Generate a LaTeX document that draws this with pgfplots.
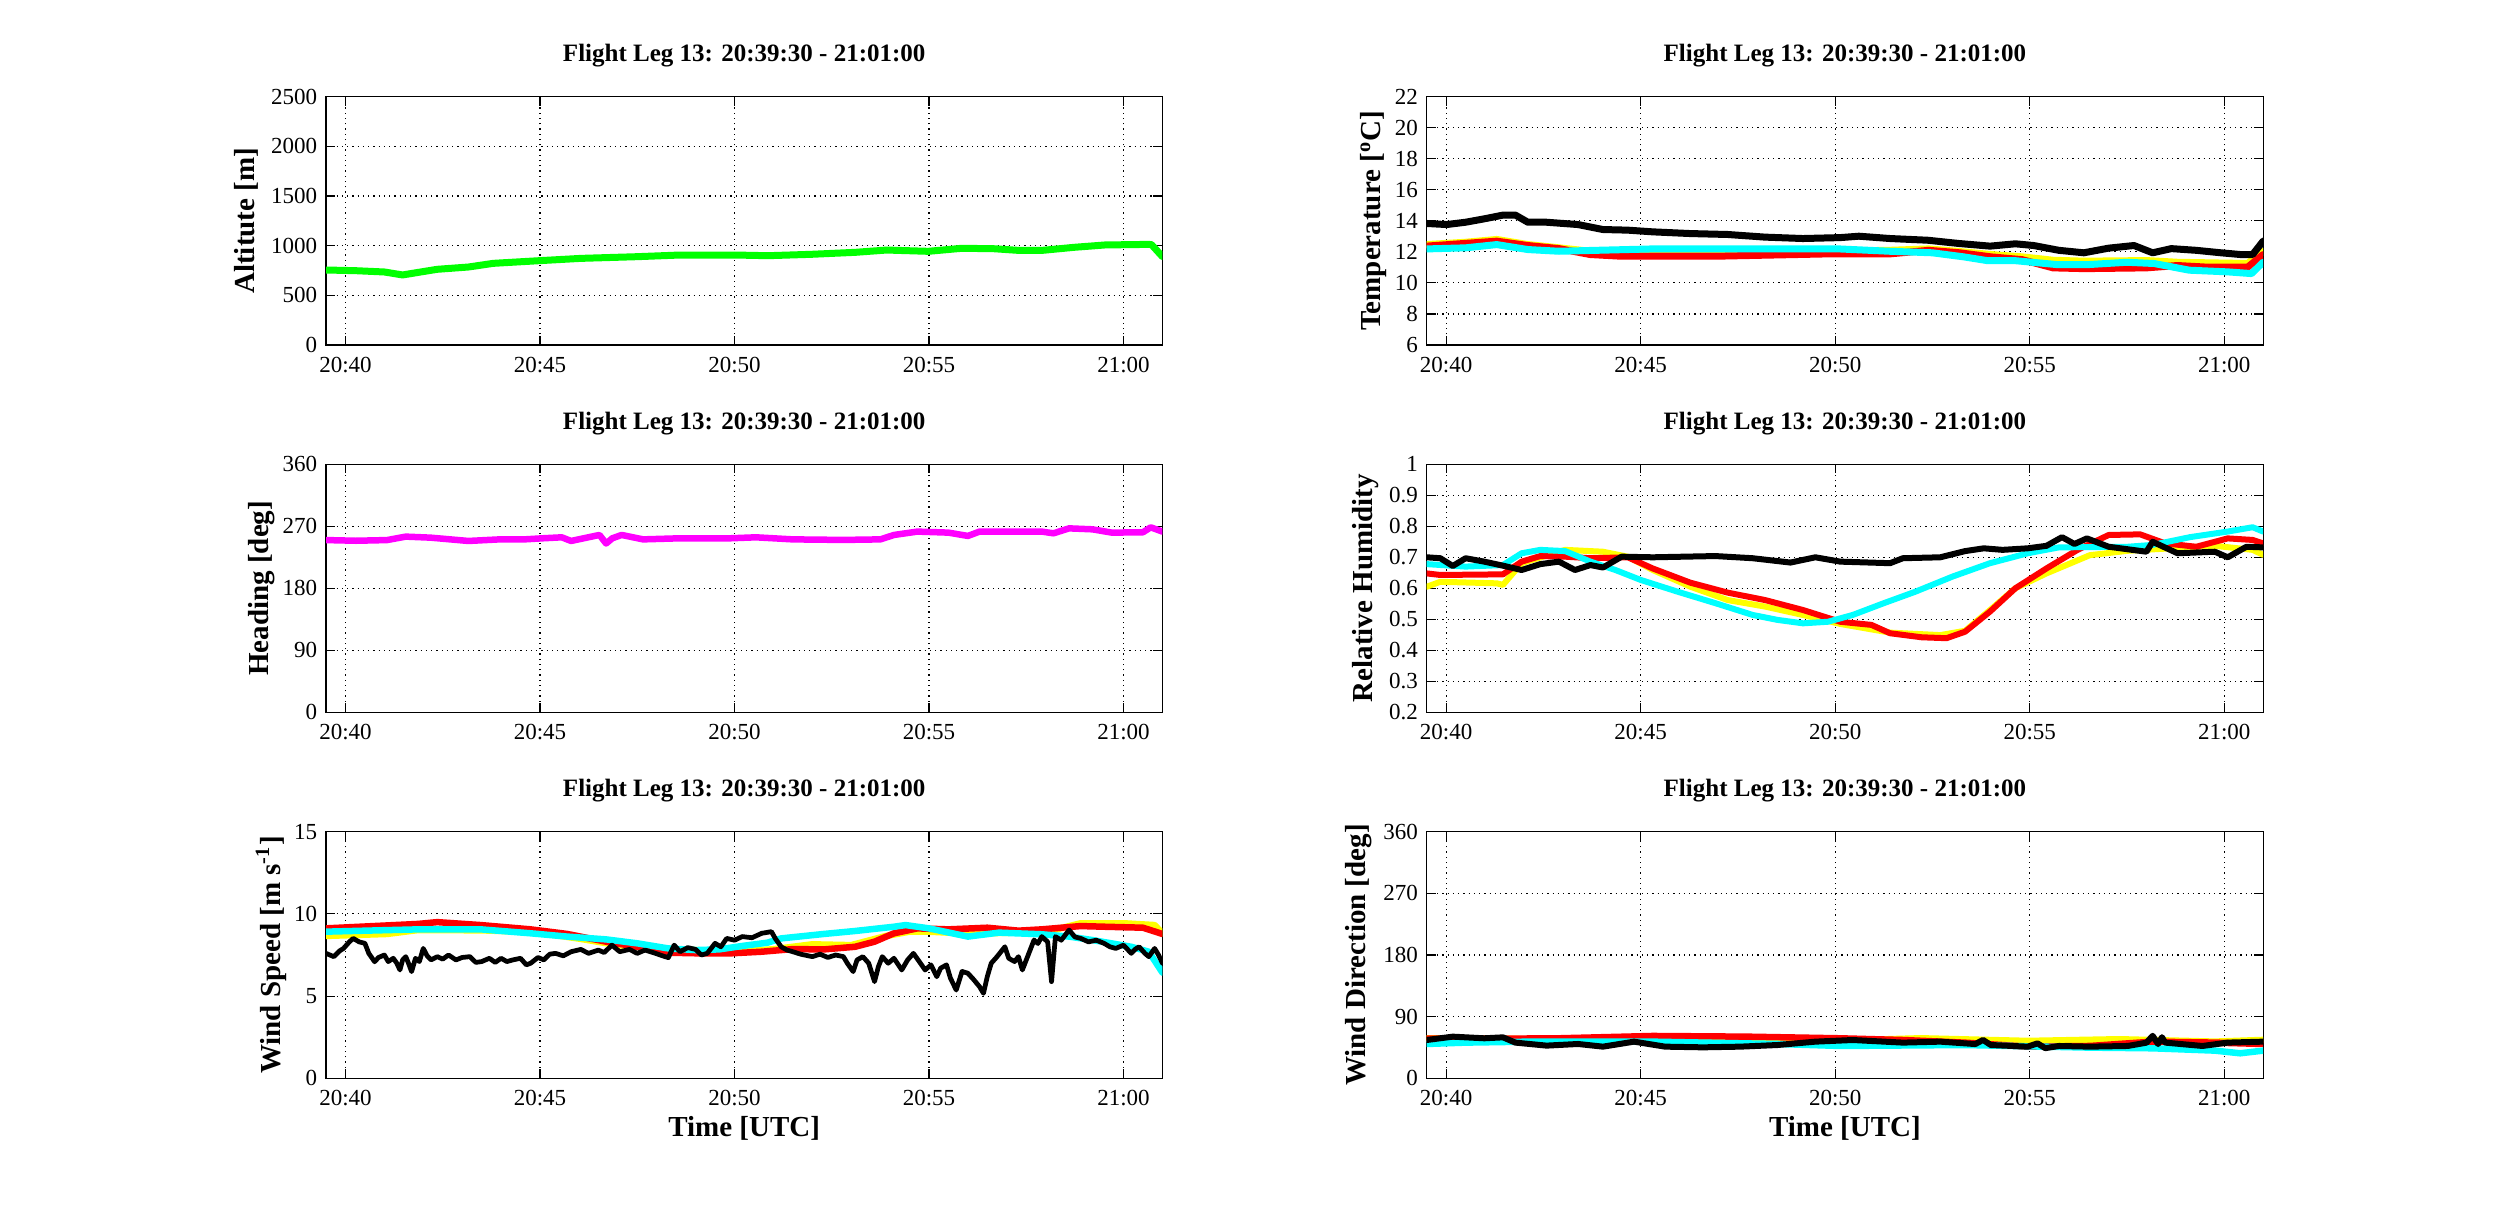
\documentclass[border=0pt]{standalone}
\usepackage{fontspec}
\setmainfont{Liberation Serif}
\usepackage{pgfplots}
\pgfplotsset{compat=1.18}
\definecolor{mgreen}{rgb}{0,1,0}
\definecolor{mmag}{rgb}{1,0,1}
\definecolor{myel}{rgb}{1,1,0}
\definecolor{mred}{rgb}{1,0,0}
\definecolor{mcyan}{rgb}{0,1,1}
\pgfplotsset{
  myax/.style={
    scale only axis, anchor=south west,
    width=334.56pt,
    xmin=-0.5, xmax=21,
    xtick={0,5,10,15,20},
    xticklabels={20:40,20:45,20:50,20:55,21:00},
    tick align=inside, tick pos=both,
    major tick length=3.6pt,
    every tick/.style={black, line width=0.45pt},
    axis line style={line width=0.5pt},
    grid=major,
    major grid style={black, line width=0.45pt, dash pattern=on 0.5pt off 1.6pt},
    tick label style={font=\fontsize{9.2}{10}\selectfont},
    xticklabel style={yshift=-1.2pt},
    /pgf/number format/assume math mode=true,
    /pgf/number format/1000 sep={},
    scaled y ticks=false,
    title={Flight Leg 13: 20:39:30 - 21:01:00},
    title style={font=\bfseries\fontsize{10}{12}\selectfont, at={(0.5,1)}, anchor=base, yshift=8pt},
    label style={font=\bfseries\fontsize{11.6}{13}\selectfont},
    every axis plot/.append style={line join=round, line cap=round},
  },
  ylab/.style={ylabel style={at={(axis description cs:-#1,0.5)}, anchor=base, rotate=0}},
  xlab/.style={xlabel={Time [UTC]}, xlabel style={at={(axis description cs:0.5,0)}, anchor=base, yshift=-23.4pt}},
}
\begin{document}
\begin{tikzpicture}
\path[use as bounding box] (0,0) rectangle (1000pt,489.6pt);

% ---------- Altitude ----------
\begin{axis}[myax, at={(130.4pt,351.6pt)}, height=99.32pt,
  ymin=0, ymax=2500, ytick={0,500,...,2500},
  ylabel={Altitute [m]}, ylab=0.0849]
\addplot[mgreen, line width=2.8pt] coordinates {
(-0.5,755)(0.27,748)(1.0,735)(1.47,705)(1.87,731)(2.36,762)(3.16,785)(3.80,822)
(4.99,849)(6.05,872)(7.49,889)(8.61,906)(9.99,906)(10.86,899)(11.98,913)(13.11,933)
(13.91,956)(14.98,943)(15.83,973)(16.64,970)(17.28,953)(17.92,953)(18.72,983)
(19.52,1007)(20.65,1013)(20.72,1010)(21,890)};
\end{axis}

% ---------- Heading ----------
\begin{axis}[myax, at={(130.4pt,204.68pt)}, height=99.2pt,
  ymin=0, ymax=360, ytick={0,90,...,360},
  ylabel={Heading [deg]}, ylab=0.0693]
\addplot[mmag, line width=2.6pt] coordinates {
(-0.5,250)(0.27,249)(1.07,250)(1.55,255)(2.19,253.5)(3.16,248.7)(3.96,251)(4.6,251)
(5.08,252.6)(5.56,254)(5.8,248.7)(6.2,253.5)(6.53,257.4)(6.7,245)(6.86,252.6)(7.1,257.4)
(7.65,251)(8.61,252.6)(9.9,252.6)(10.55,254)(11.5,251)(12.8,250.2)(13.75,251)(14.1,257.4)
(14.7,262.3)(15.5,260.8)(16.0,256)(16.3,262.3)(17.3,262.3)(17.9,262.3)(18.2,259.8)
(18.6,267)(19.2,265.6)(19.7,260.8)(20.5,261.3)(20.7,268.5)(21,262.3)};
\end{axis}

% ---------- Wind speed ----------
\begin{axis}[myax, at={(130.4pt,58.28pt)}, height=98.64pt,
  ymin=0, ymax=15, ytick={0,5,10,15},
  ylabel={Wind Speed [m s\textsuperscript{-1}]}, ylab=0.0550, xlab]
\addplot[myel, line width=2.6pt] coordinates {
(-0.5,8.66)(1.07,8.78)(1.87,9.02)(3.5,9.0)(4.8,8.9)(6.0,8.5)(7.0,8.1)(8.0,7.9)(9.0,7.8)
(10.0,7.7)(11.0,7.85)(12.0,8.15)(13.0,8.1)(13.9,8.66)(14.5,8.92)(15.0,8.92)(16.0,8.8)
(18.0,8.9)(18.9,9.43)(20.0,9.43)(20.8,9.32)(21,8.82)};
\addplot[mred, line width=2.6pt] coordinates {
(-0.5,9.12)(1.87,9.39)(2.36,9.5)(3.48,9.32)(4.76,9.06)(5.7,8.78)(6.7,8.31)(7.5,8.0)
(8.3,7.64)(9.1,7.6)(9.9,7.6)(10.7,7.7)(11.5,7.86)(12.3,7.84)(13.1,8.0)(13.6,8.31)
(14.1,8.82)(14.7,9.12)(15.5,9.06)(16.5,9.16)(17.3,8.98)(17.9,9.06)(18.9,9.26)(19.5,9.22)
(20.5,9.16)(21,8.78)};
\addplot[mcyan, line width=2.6pt] coordinates {
(-0.5,8.92)(1.87,9.06)(3.48,9.06)(4.76,8.82)(5.7,8.62)(6.7,8.45)(7.5,8.21)(8.3,7.9)
(9.0,7.8)(9.6,7.84)(10.2,8.05)(10.85,8.25)(11.2,8.51)(12.3,8.78)(13.1,8.96)(14.1,9.22)
(14.4,9.32)(15.0,9.12)(16.0,8.62)(16.8,8.86)(17.9,8.76)(18.6,8.62)(19.2,8.41)(20.2,8.0)
(20.65,7.7)(21,6.43)};
\addplot[black, line width=1.9pt] coordinates {
(-0.5,7.6)(-0.3,7.4)(-0.15,7.75)(-0.05,7.9)(0.1,8.3)(0.2,8.51)(0.35,8.3)(0.5,8.21)(0.6,7.6)
(0.75,7.09)(0.85,7.35)(1.0,7.5)(1.1,7.1)(1.23,7.3)(1.32,7.0)(1.4,6.59)(1.47,7.2)(1.55,7.4)
(1.62,7.0)(1.7,6.49)(1.8,7.3)(1.9,7.1)(2.0,7.9)(2.1,7.45)(2.2,7.2)(2.36,7.4)(2.5,7.25)
(2.65,7.5)(2.84,7.2)(3.0,7.35)(3.2,7.4)(3.35,7.05)(3.5,7.1)(3.7,7.3)(3.85,7.05)(4.0,7.3)
(4.15,7.1)(4.3,7.2)(4.5,7.3)(4.65,6.9)(4.76,7.0)(4.95,7.35)(5.1,7.2)(5.25,7.55)(5.4,7.6)
(5.6,7.45)(5.8,7.7)(6.05,7.84)(6.25,7.6)(6.5,7.8)(6.65,7.65)(6.85,8.1)(7.05,7.7)(7.3,7.84)
(7.5,7.6)(7.7,7.8)(7.97,7.6)(8.15,7.45)(8.3,7.34)(8.45,8.1)(8.6,7.7)(8.8,7.95)(9.0,7.84)
(9.15,7.5)(9.3,7.6)(9.5,8.21)(9.65,8.0)(9.8,8.51)(10.0,8.4)(10.2,8.62)(10.45,8.55)
(10.7,8.82)(10.95,8.92)(11.05,8.5)(11.2,8.0)(11.35,7.8)(11.5,7.7)(11.7,7.55)(12.0,7.4)
(12.2,7.55)(12.4,7.35)(12.6,7.5)(12.8,7.4)(12.9,7.0)(13.05,6.49)(13.15,7.2)(13.3,7.4)
(13.45,7.0)(13.6,5.88)(13.7,6.8)(13.8,7.4)(13.95,7.0)(14.1,7.3)(14.3,6.59)(14.45,7.2)
(14.6,7.6)(14.75,7.1)(14.9,6.59)(15.05,6.9)(15.2,6.18)(15.3,6.7)(15.45,6.9)(15.55,6.1)
(15.7,5.37)(15.85,6.5)(16.0,6.39)(16.15,6.0)(16.3,5.57)(16.4,5.17)(16.5,6.2)(16.6,7.0)
(16.75,7.4)(16.95,8.0)(17.05,7.3)(17.2,7.1)(17.3,7.4)(17.4,6.59)(17.55,7.5)(17.7,8.41)
(17.8,8.2)(17.9,8.62)(18.05,8.3)(18.15,5.88)(18.25,8.62)(18.4,8.4)(18.6,9.02)(18.75,8.6)
(18.9,8.51)(19.1,8.3)(19.3,8.4)(19.5,8.21)(19.65,8.0)(19.8,7.9)(20.0,8.1)(20.2,7.6)
(20.3,7.85)(20.4,8.0)(20.55,7.6)(20.65,7.4)(20.8,7.9)(20.9,7.5)(21,7.0)};
\end{axis}

% ---------- Temperature ----------
\begin{axis}[myax, at={(570.68pt,351.6pt)}, height=99.32pt,
  ymin=6, ymax=22, ytick={6,8,...,22},
  ylabel={Temperature [\textsuperscript{o}C]}, ylab=0.0547]
\addplot[myel, line width=2.8pt] coordinates {
(-0.5,12.47)(0.5,12.62)(1.3,12.8)(2.1,12.47)(2.9,12.26)(3.7,12.04)(5.3,12.0)(8.5,12.0)
(11.4,12.1)(12.4,12.19)(13.2,12.02)(14.0,11.83)(14.8,11.68)(15.6,11.46)(16.4,11.4)
(18.0,11.44)(18.8,11.33)(20.6,11.25)(21,12.04)};
\addplot[mred, line width=2.8pt] coordinates {
(-0.5,12.37)(1.3,12.69)(2.1,12.41)(2.9,12.21)(3.7,11.83)(4.5,11.72)(6.9,11.72)(9.8,11.87)
(11.4,11.87)(12.4,12.1)(13.2,11.94)(14.0,11.68)(14.8,11.5)(15.6,10.97)(16.4,10.92)
(18.0,10.97)(18.8,11.12)(19.6,11.01)(20.6,11.01)(21,11.83)};
\addplot[mcyan, line width=2.8pt] coordinates {
(-0.5,12.19)(0.5,12.26)(1.3,12.47)(2.1,12.15)(2.9,12.04)(3.7,12.09)(5.3,12.19)(6.9,12.19)
(10.1,12.19)(11.4,12.04)(12.5,11.94)(13.3,11.68)(13.9,11.44)(14.6,11.44)(15.7,11.18)
(16.5,11.18)(17.5,11.33)(18.2,11.25)(19.1,10.82)(20.1,10.71)(20.7,10.6)(21,11.33)};
\addplot[black, line width=2.8pt] coordinates {
(-0.5,13.83)(0.01,13.76)(0.5,13.91)(0.98,14.13)(1.46,14.37)(1.78,14.37)(2.1,13.91)
(2.58,13.91)(3.39,13.76)(4.03,13.44)(4.67,13.4)(5.31,13.29)(6.28,13.18)(7.24,13.12)
(8.2,12.95)(9.17,12.86)(10.13,12.92)(10.61,13.01)(11.41,12.86)(12.38,12.75)(13.18,12.54)
(13.98,12.37)(14.63,12.52)(15.1,12.41)(15.75,12.1)(16.39,11.94)(17.03,12.24)(17.68,12.41)
(18.16,11.94)(18.64,12.21)(19.28,12.1)(19.92,11.94)(20.41,11.83)(20.73,11.83)(21,12.69)};
\end{axis}

% ---------- Relative humidity ----------
\begin{axis}[myax, at={(570.68pt,204.68pt)}, height=99.2pt,
  ymin=0.2, ymax=1, ytick={0.2,0.3,0.4,0.5,0.6,0.7,0.8,0.9,1},
  ylabel={Relative Humidity}, ylab=0.0643]
\addplot[myel, line width=2.4pt] coordinates {
(-0.5,0.605)(-0.15,0.621)(1.3,0.616)(1.46,0.611)(1.94,0.681)(3.06,0.724)(4.03,0.718)
(4.67,0.702)(5.31,0.659)(6.28,0.605)(7.24,0.562)(8.2,0.541)(9.17,0.514)(10.13,0.485)
(11.41,0.457)(12.7,0.449)(13.34,0.463)(13.98,0.53)(14.63,0.60)(15.43,0.648)(16.55,0.707)
(17.52,0.721)(18.64,0.729)(19.76,0.737)(20.73,0.724)(21,0.708)};
\addplot[mred, line width=2.4pt] coordinates {
(-0.5,0.648)(-0.15,0.643)(1.46,0.645)(1.94,0.686)(2.42,0.704)(3.06,0.702)(3.71,0.697)
(4.67,0.70)(5.31,0.664)(6.28,0.618)(7.24,0.586)(8.2,0.562)(9.17,0.53)(10.13,0.492)
(10.93,0.482)(11.41,0.455)(12.22,0.442)(12.86,0.439)(13.34,0.46)(13.98,0.525)(14.63,0.60)
(15.43,0.664)(16.23,0.724)(17.03,0.772)(17.84,0.774)(18.48,0.745)(19.28,0.734)
(20.09,0.761)(20.73,0.756)(21,0.745)};
\addplot[mcyan, line width=2.4pt] coordinates {
(-0.5,0.678)(0.5,0.67)(1.46,0.675)(1.94,0.713)(2.42,0.724)(3.06,0.72)(3.71,0.686)
(4.35,0.659)(5.0,0.627)(5.95,0.589)(6.92,0.552)(7.88,0.514)(8.52,0.498)(9.17,0.487)
(9.81,0.492)(10.45,0.514)(11.25,0.552)(12.06,0.589)(13.02,0.638)(13.98,0.681)(14.95,0.713)
(15.75,0.732)(17.52,0.734)(18.16,0.74)(19.12,0.765)(20.09,0.783)(20.73,0.797)(21,0.783)};
\addplot[black, line width=2.4pt] coordinates {
(-0.5,0.70)(-0.15,0.697)(0.17,0.672)(0.5,0.697)(0.98,0.686)(1.46,0.673)(1.94,0.659)
(2.42,0.678)(2.9,0.686)(3.31,0.659)(3.71,0.675)(4.03,0.667)(4.51,0.702)(5.31,0.70)
(6.92,0.704)(7.88,0.697)(8.85,0.683)(9.49,0.70)(10.13,0.686)(11.41,0.681)(11.74,0.697)
(12.7,0.70)(13.34,0.72)(13.82,0.729)(14.3,0.724)(14.95,0.729)(15.43,0.737)(15.83,0.765)
(16.15,0.743)(16.47,0.761)(17.03,0.734)(18.0,0.718)(18.16,0.75)(18.8,0.713)(19.76,0.718)
(20.09,0.70)(20.57,0.734)(21,0.732)};
\end{axis}

% ---------- Wind direction ----------
\begin{axis}[myax, at={(570.68pt,58.28pt)}, height=98.64pt,
  ymin=0, ymax=360, ytick={0,90,...,360},
  ylabel={Wind Direction [deg]}, ylab=0.0726, xlab]
\addplot[myel, line width=2.6pt] coordinates {
(-0.5,58.4)(5.31,55.9)(10.13,55)(12.2,58.4)(14.95,54.5)(17.3,57)(19.76,53.5)(21,56)};
\addplot[mred, line width=2.6pt] coordinates {
(-0.5,58)(1.78,58)(2.9,58.4)(5.31,61.8)(7.72,60.8)(10.13,58.4)(11.74,55.9)(13.34,52)
(14.95,46.2)(16.55,47.2)(18.16,53.5)(19.76,52.1)(21,50.1)};
\addplot[mcyan, line width=2.6pt] coordinates {
(-0.5,50.1)(0.5,52.1)(2.1,53.5)(5.31,53.5)(8.52,50.1)(10.13,47.2)(13.34,48.6)(16.55,44.8)
(18.16,43.8)(19.76,40.4)(20.41,36.5)(21,40.4)};
\addplot[black, line width=2.4pt] coordinates {
(-0.5,55.9)(0.17,60.8)(0.98,58.4)(1.46,59.8)(1.78,52.1)(2.58,47.7)(3.39,50.1)(4.03,46.2)
(4.83,53.5)(5.63,46.2)(6.6,45.2)(7.56,46.2)(8.52,48.6)(9.49,53.5)(10.45,55.9)(11.74,52.1)
(12.7,53.5)(13.6,50)(13.8,56)(14.0,48.6)(14.95,46.2)(15.2,51)(15.4,44)(15.75,47.2)
(16.55,46.2)(17.52,47.2)(18.0,52)(18.16,62)(18.3,50)(18.4,60)(18.48,52.1)(19.44,47.2)
(20.09,52.1)(21,53.5)};
\end{axis}
\end{tikzpicture}
\end{document}
